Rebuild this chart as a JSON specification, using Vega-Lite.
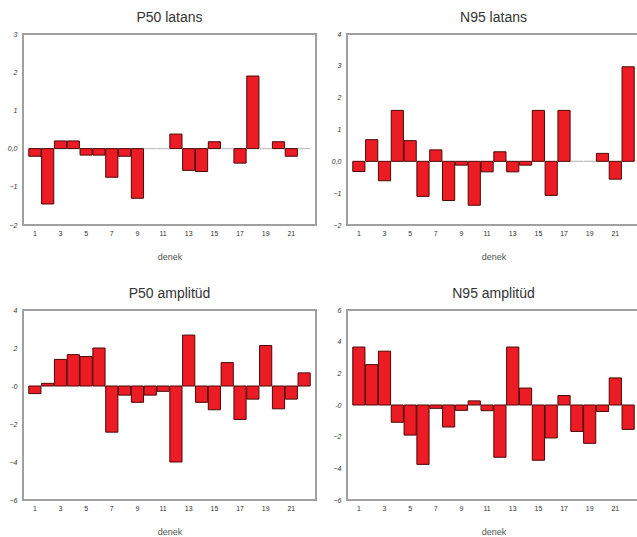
{
  "$schema": "https://vega.github.io/schema/vega-lite/v6.json",
  "padding": {"left": 4, "top": 10, "right": 0, "bottom": 0},
  "background": "white",
  "datasets": {
    "p1": [
      {"denek": 1, "v": -0.2}, {"denek": 2, "v": -1.45}, {"denek": 3, "v": 0.2}, {"denek": 4, "v": 0.2},
      {"denek": 5, "v": -0.17}, {"denek": 6, "v": -0.17}, {"denek": 7, "v": -0.75}, {"denek": 8, "v": -0.2},
      {"denek": 9, "v": -1.3}, {"denek": 10, "v": 0}, {"denek": 11, "v": 0}, {"denek": 12, "v": 0.38},
      {"denek": 13, "v": -0.57}, {"denek": 14, "v": -0.6}, {"denek": 15, "v": 0.18}, {"denek": 16, "v": 0},
      {"denek": 17, "v": -0.38}, {"denek": 18, "v": 1.9}, {"denek": 19, "v": 0}, {"denek": 20, "v": 0.18},
      {"denek": 21, "v": -0.2}, {"denek": 22, "v": 0}
    ],
    "p2": [
      {"denek": 1, "v": -0.32}, {"denek": 2, "v": 0.68}, {"denek": 3, "v": -0.61}, {"denek": 4, "v": 1.6},
      {"denek": 5, "v": 0.65}, {"denek": 6, "v": -1.1}, {"denek": 7, "v": 0.36}, {"denek": 8, "v": -1.23},
      {"denek": 9, "v": -0.12}, {"denek": 10, "v": -1.38}, {"denek": 11, "v": -0.33}, {"denek": 12, "v": 0.3},
      {"denek": 13, "v": -0.33}, {"denek": 14, "v": -0.12}, {"denek": 15, "v": 1.6}, {"denek": 16, "v": -1.07},
      {"denek": 17, "v": 1.6}, {"denek": 18, "v": 0}, {"denek": 19, "v": 0}, {"denek": 20, "v": 0.25},
      {"denek": 21, "v": -0.56}, {"denek": 22, "v": 2.97}
    ],
    "p3": [
      {"denek": 1, "v": -0.4}, {"denek": 2, "v": 0.14}, {"denek": 3, "v": 1.4}, {"denek": 4, "v": 1.65},
      {"denek": 5, "v": 1.55}, {"denek": 6, "v": 2.0}, {"denek": 7, "v": -2.43}, {"denek": 8, "v": -0.48},
      {"denek": 9, "v": -0.86}, {"denek": 10, "v": -0.48}, {"denek": 11, "v": -0.28}, {"denek": 12, "v": -4.0},
      {"denek": 13, "v": 2.68}, {"denek": 14, "v": -0.86}, {"denek": 15, "v": -1.25}, {"denek": 16, "v": 1.23},
      {"denek": 17, "v": -1.76}, {"denek": 18, "v": -0.69}, {"denek": 19, "v": 2.13}, {"denek": 20, "v": -1.2},
      {"denek": 21, "v": -0.69}, {"denek": 22, "v": 0.69}
    ],
    "p4": [
      {"denek": 1, "v": 3.66}, {"denek": 2, "v": 2.55}, {"denek": 3, "v": 3.4}, {"denek": 4, "v": -1.09},
      {"denek": 5, "v": -1.9}, {"denek": 6, "v": -3.75}, {"denek": 7, "v": -0.21}, {"denek": 8, "v": -1.39},
      {"denek": 9, "v": -0.34}, {"denek": 10, "v": 0.26}, {"denek": 11, "v": -0.36}, {"denek": 12, "v": -3.3},
      {"denek": 13, "v": 3.66}, {"denek": 14, "v": 1.07}, {"denek": 15, "v": -3.49}, {"denek": 16, "v": -2.08},
      {"denek": 17, "v": 0.6}, {"denek": 18, "v": -1.67}, {"denek": 19, "v": -2.42}, {"denek": 20, "v": -0.41},
      {"denek": 21, "v": 1.71}, {"denek": 22, "v": -1.54}
    ]
  },
  "columns": 2,
  "spacing": {"row": 24, "column": 11},
  "concat": [
    {
      "title": "P50 latans",
      "data": {"name": "p1"},
      "width": 293, "height": 191,
      "mark": {"type": "bar", "fill": "#ed1c24", "strokeWidth": 1},
      "encoding": {
        "x": {"field": "denek", "type": "ordinal", "scale": {"paddingInner": 0.05, "paddingOuter": 0.45},
              "axis": {"values": [1,3,5,7,9,11,13,15,17,19,21], "labelAngle": 0, "title": "denek"}},
        "y": {"field": "v", "type": "quantitative", "scale": {"domain": [-2, 3], "nice": false, "zero": false},
              "axis": {"values": [-2,-1,0,1,2,3], "labelExpr": "datum.value == 0 ? '0,0' : datum.label", "title": null}},
        "stroke": {"condition": {"test": "datum.v == 0", "value": "#c0c0c0"}, "value": "#4a0808"}
      }
    },
    {
      "title": "N95 latans",
      "data": {"name": "p2"},
      "width": 293, "height": 191,
      "mark": {"type": "bar", "fill": "#ed1c24", "strokeWidth": 1},
      "encoding": {
        "x": {"field": "denek", "type": "ordinal", "scale": {"paddingInner": 0.05, "paddingOuter": 0.45},
              "axis": {"values": [1,3,5,7,9,11,13,15,17,19,21], "labelAngle": 0, "title": "denek"}},
        "y": {"field": "v", "type": "quantitative", "scale": {"domain": [-2, 4], "nice": false, "zero": false},
              "axis": {"values": [-2,-1,0,1,2,3,4], "labelExpr": "datum.value == 0 ? '0,0' : datum.label", "title": null}},
        "stroke": {"condition": {"test": "datum.v == 0", "value": "#c0c0c0"}, "value": "#4a0808"}
      }
    },
    {
      "title": "P50 amplitüd",
      "data": {"name": "p3"},
      "width": 293, "height": 190,
      "mark": {"type": "bar", "fill": "#ed1c24", "strokeWidth": 1},
      "encoding": {
        "x": {"field": "denek", "type": "ordinal", "scale": {"paddingInner": 0.05, "paddingOuter": 0.45},
              "axis": {"values": [1,3,5,7,9,11,13,15,17,19,21], "labelAngle": 0, "title": "denek"}},
        "y": {"field": "v", "type": "quantitative", "scale": {"domain": [-6, 4], "nice": false, "zero": false},
              "axis": {"values": [-6,-4,-2,0,2,4], "labelExpr": "datum.value == 0 ? '-0' : datum.label", "title": null}},
        "stroke": {"condition": {"test": "datum.v == 0", "value": "#c0c0c0"}, "value": "#4a0808"}
      }
    },
    {
      "title": "N95 amplitüd",
      "data": {"name": "p4"},
      "width": 293, "height": 190,
      "mark": {"type": "bar", "fill": "#ed1c24", "strokeWidth": 1},
      "encoding": {
        "x": {"field": "denek", "type": "ordinal", "scale": {"paddingInner": 0.05, "paddingOuter": 0.45},
              "axis": {"values": [1,3,5,7,9,11,13,15,17,19,21], "labelAngle": 0, "title": "denek"}},
        "y": {"field": "v", "type": "quantitative", "scale": {"domain": [-6, 6], "nice": false, "zero": false},
              "axis": {"values": [-6,-4,-2,0,2,4,6], "labelExpr": "datum.value == 0 ? '-0' : datum.label", "title": null}},
        "stroke": {"condition": {"test": "datum.v == 0", "value": "#c0c0c0"}, "value": "#4a0808"}
      }
    }
  ],
  "config": {
    "view": {"stroke": "#a0a0a0", "strokeWidth": 2},
    "axis": {"domain": false, "ticks": false, "tickSize": 0, "grid": false,
             "labelFont": "Liberation Sans", "labelFontSize": 7, "labelColor": "#333333",
             "titleFont": "Liberation Sans"},
    "axisY": {"labelFontStyle": "italic", "labelPadding": 6, "minExtent": 18, "maxExtent": 18},
    "axisX": {"labelPadding": 4, "titlePadding": 16, "titleFontSize": 9, "titleFontWeight": "normal", "titleColor": "#555555"},
    "title": {"fontSize": 14, "font": "Liberation Sans", "fontWeight": "normal", "color": "#333333", "offset": 5}
  }
}
